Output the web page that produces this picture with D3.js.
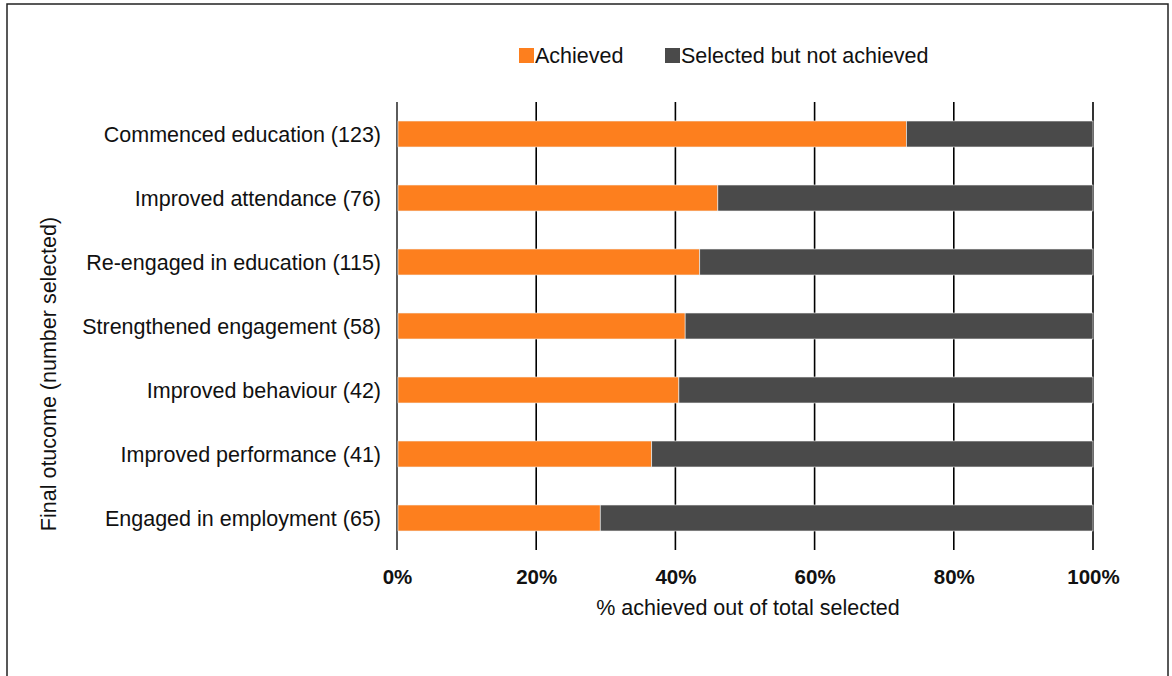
<!DOCTYPE html>
<html><head><meta charset="utf-8">
<script src="https://cdn.jsdelivr.net/npm/d3@7"></script>
<style>
html,body{margin:0;padding:0;background:#fff;}
svg{display:block;font-family:"Liberation Sans",Arial,sans-serif;}
</style></head>
<body>
<svg id="c" width="1172" height="676"></svg>
<script>
const categories = ["Commenced education (123)","Improved attendance (76)","Re-engaged in education (115)","Strengthened engagement (58)","Improved behaviour (42)","Improved performance (41)","Engaged in employment (65)"];
const achieved = [73.2, 46.1, 43.5, 41.4, 40.5, 36.6, 29.2];
const notAchieved = achieved.map(v => 100 - v);
const seriesNames = ["Achieved","Selected but not achieved"];
const seriesColors = ["#FD7F1E","#4A4A4A"];
const xTicks = [0,20,40,60,80,100];
const xTickLabels = ["0%","20%","40%","60%","80%","100%"];

const svg = d3.select("#c");
const W = 1172, H = 676;
const m = {left:397, right:W-1093, top:102, bottom:H-550};
const FS = 21.5;

svg.append("rect").attr("x",7).attr("y",4).attr("width",1161).attr("height",680)
  .attr("fill","none").attr("stroke","#222").attr("stroke-width",1.5);

const x = d3.scaleLinear().domain([0,100]).range([m.left, W-m.right]);
const y = d3.scaleBand().domain(categories).range([m.top, H-m.bottom]).paddingInner(0.594).paddingOuter(0.297);

svg.append("g").selectAll("line").data(xTicks).join("line")
  .attr("x1",d=>x(d)).attr("x2",d=>x(d)).attr("y1",m.top).attr("y2",H-m.bottom)
  .attr("stroke",(d)=>d===0?"#333":"#000").attr("stroke-width",1.6);

const data = categories.map((c,i)=>({c, a:achieved[i], n:notAchieved[i]}));
const g = svg.append("g");
g.selectAll("rect.a").data(data).join("rect").attr("class","a")
  .attr("x",x(0)+1).attr("y",d=>y(d.c)).attr("width",d=>x(d.a)-x(0)-1).attr("height",y.bandwidth())
  .attr("fill",seriesColors[0]).attr("stroke","#f3f3f3").attr("stroke-width",0.6);
g.selectAll("rect.n").data(data).join("rect").attr("class","n")
  .attr("x",d=>x(d.a)).attr("y",d=>y(d.c)).attr("width",d=>x(100)-x(d.a)).attr("height",y.bandwidth())
  .attr("fill",seriesColors[1]).attr("stroke","#f3f3f3").attr("stroke-width",0.6);

const ya = d3.axisLeft(y).tickSize(0).tickPadding(16);
const yg = svg.append("g").attr("transform",`translate(${m.left},0)`).call(ya);
yg.select(".domain").remove();
yg.selectAll("text").attr("font-size",FS).attr("fill","#111").attr("font-family","'Liberation Sans',Arial,sans-serif").attr("dy","0.35em");

const xa = d3.axisBottom(x).tickValues(xTicks).tickFormat((d,i)=>xTickLabels[i]).tickSize(0).tickPadding(19);
const xg = svg.append("g").attr("transform",`translate(0,${H-m.bottom})`).call(xa);
xg.select(".domain").remove();
xg.selectAll("text").attr("font-size",20.5).attr("font-weight","bold").attr("fill","#111").attr("font-family","'Liberation Sans',Arial,sans-serif");

svg.append("text").attr("x",x(50)+3).attr("y",615).attr("text-anchor","middle")
  .attr("font-size",FS).attr("fill","#111").text("% achieved out of total selected");
svg.append("text").attr("transform","translate(56,374) rotate(-90)").attr("text-anchor","middle")
  .attr("font-size",FS).attr("fill","#111").text("Final otucome (number selected)");

const lx = [519, 665];
const lg = svg.append("g");
seriesNames.forEach((s,i)=>{
  lg.append("rect").attr("x",lx[i]).attr("y",48).attr("width",15).attr("height",15).attr("fill",seriesColors[i]);
  lg.append("text").attr("x",lx[i]+16).attr("y",63).attr("font-size",FS).attr("fill","#111").text(s);
});
</script>
</body></html>
